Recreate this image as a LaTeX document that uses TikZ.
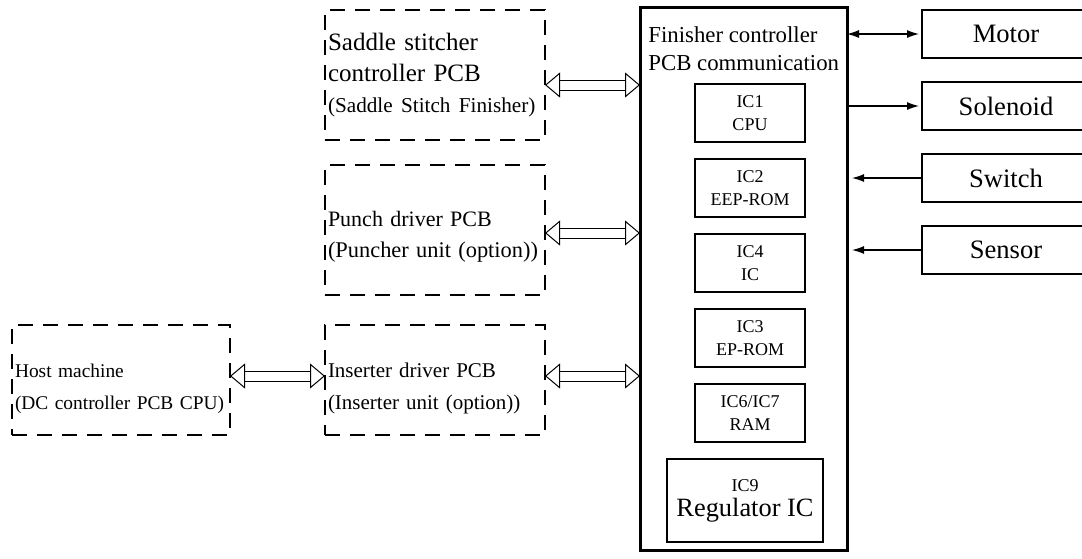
\documentclass[tikz,border=0pt]{standalone}
\usepackage{fontspec}
\setmainfont{Liberation Serif}
\usetikzlibrary{arrows.meta,positioning}
\tikzset{
  dbox/.style  ={draw, dash pattern=on 7.5pt off 5pt, line width=1.4pt, align=left,
                 inner xsep=1.5pt, inner ysep=0pt, outer sep=0pt, text width=107pt},
  finbox/.style={draw, line width=1.5pt, outer sep=0pt,
                 minimum width=103.5pt, minimum height=271.5pt},
  icbox/.style ={draw, line width=1pt, align=center, outer sep=0pt, inner sep=1pt,
                 minimum width=55pt, minimum height=29pt,
                 font=\fontsize{9}{11.5}\selectfont},
  iobox/.style ={draw, line width=1.2pt, outer sep=0pt, minimum width=84pt,
                 minimum height=24pt, font=\fontsize{13.3}{15}\selectfont},
  ltip/.tip    ={Latex[length=6pt,width=4pt]},
  dtip/.tip    ={Triangle[open,length=7.5pt,width=12.5pt]},
  dar/.style   ={double, double distance=4.5pt, line width=0.5pt, {dtip}-{dtip}},
  far/.style   ={-{ltip}, line width=0.6pt},
}
\newcommand{\topgap}[1]{\rule{0pt}{#1}}
\begin{document}
\begin{tikzpicture}[node distance=8.5pt]
\useasboundingbox (0,0) rectangle (541pt,-279pt);
% finisher controller PCB
\node[finbox, anchor=north west] (fin) at (320pt,-3.5pt) {};
\node[align=left, inner sep=0pt, font=\fontsize{11.4}{14}\selectfont,
      below right=9.8pt and 4pt of fin.north west] (fintitle)
  {Finisher controller\\PCB communication};
\node[icbox, anchor=north] (ic1) at (375pt,-42pt) {IC1\\CPU};
\node[icbox, below=of ic1] (ic2) {IC2\\EEP-ROM};
\node[icbox, below=of ic2] (ic4) {IC4\\IC};
\node[icbox, below=of ic4] (ic3) {IC3\\EP-ROM};
\node[icbox, below=of ic3] (ic6) {IC6/IC7\\RAM};
\node[icbox, minimum width=78pt, minimum height=41.5pt, below=of ic6, xshift=-2.5pt] (ic9)
  {IC9\\[1pt]{\fontsize{13.2}{15}\selectfont Regulator IC}};

% loads
\node[iobox, anchor=north west] (motor) at (461pt,-5pt) {Motor};
\node[iobox, below=12pt of motor] (sol) {Solenoid};
\node[iobox, below=12pt of sol] (sw) {Switch};
\node[iobox, below=12pt of sw] (sens) {Sensor};

% other PCBs
\node[dbox, minimum height=65pt, anchor=north west, font=\fontsize{12.5}{15.5}\selectfont]
  (saddle) at (162.5pt,-5pt)
  {Saddle stitcher\\controller PCB\\{\fontsize{10.6}{15.5}\selectfont(Saddle Stitch Finisher)}};
\node[dbox, minimum height=65pt, below=12.5pt of saddle, font=\fontsize{11}{15.5}\selectfont]
  (punch) {\topgap{14pt}Punch driver PCB\\{\fontsize{11.2}{15.5}\selectfont(Puncher unit (option))}};
\node[dbox, minimum height=55pt, below=15pt of punch, font=\fontsize{10.5}{16}\selectfont]
  (ins) {\topgap{15.5pt}Inserter driver PCB\\(Inserter unit (option))};
\node[dbox, minimum height=55pt, text width=106pt, left=47.5pt of ins,
      font=\fontsize{9.7}{16}\selectfont]
  (host) {\topgap{15.5pt}Host machine\\(DC controller PCB CPU)};

\draw[dar] ([yshift=-5pt]saddle.east) -- ([yshift=-5pt]saddle.east -| fin.west);
\draw[dar] ([yshift=-1.5pt]punch.east) -- ([yshift=-1.5pt]punch.east -| fin.west);
\draw[dar] ([yshift=2pt]ins.east) -- ([yshift=2pt]ins.east -| fin.west);
\draw[dar] ([yshift=2pt]host.east) -- ([yshift=2pt]ins.west);

\draw[far, {ltip}-{ltip}, shorten >=1.5pt] (fin.east |- motor.west) -- (motor.west);
\draw[far, shorten >=1.5pt] (fin.east |- sol.west) -- (sol.west);
\draw[far, shorten >=2.5pt] (sw.west) -- (sw.west -| fin.east);
\draw[far, shorten >=2.5pt] (sens.west) -- (sens.west -| fin.east);
\end{tikzpicture}
\end{document}
